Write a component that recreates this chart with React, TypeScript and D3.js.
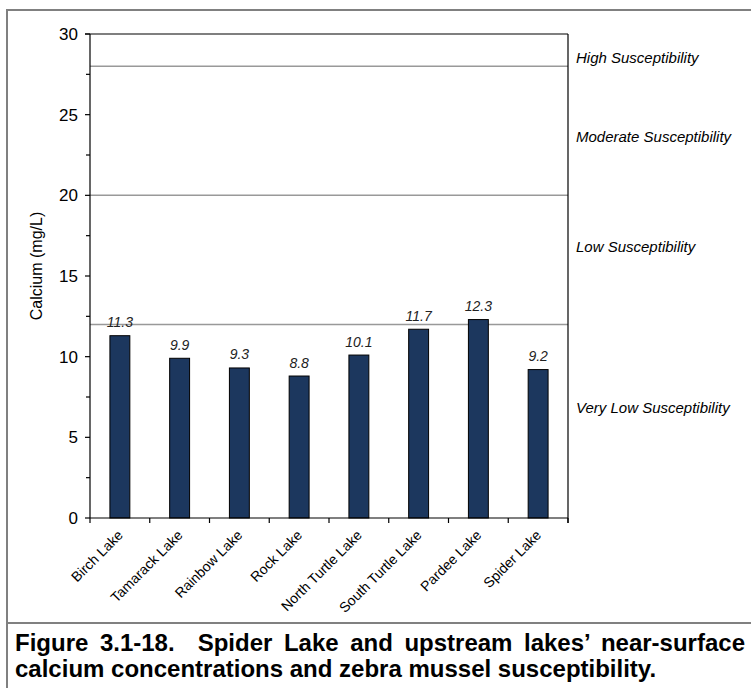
import React, { useEffect, useRef } from "react";
import * as d3 from "d3";

const lakes = [
  "Birch Lake",
  "Tamarack Lake",
  "Rainbow Lake",
  "Rock Lake",
  "North Turtle Lake",
  "South Turtle Lake",
  "Pardee Lake",
  "Spider Lake",
];
const calcium = [11.3, 9.9, 9.3, 8.8, 10.1, 11.7, 12.3, 9.2];
const thresholds = [12, 20, 28];
const zoneLabels = [
  "High Susceptibility",
  "Moderate Susceptibility",
  "Low Susceptibility",
  "Very Low Susceptibility",
];
const zoneLabelValues = [28.2, 23.3, 16.5, 6.5];
const yTicks = [0, 5, 10, 15, 20, 25, 30];
const yMinorTicks = [2.5, 7.5, 12.5, 17.5, 22.5, 27.5];
const yTitle = "Calcium (mg/L)";
const captionLines = [
  "Figure 3.1-18.  Spider Lake and upstream lakes\u2019 near-surface",
  "calcium concentrations and zebra mussel susceptibility.",
];

const W = 751;
const H = 688;
const FONT = "'Liberation Sans', Arial, Helvetica, sans-serif";

export default function App() {
  const ref = useRef<SVGSVGElement | null>(null);

  useEffect(() => {
    const svg = d3.select(ref.current);
    svg.selectAll("*").remove();

    const left = 90, right = 568, top = 34, bottom = 518;
    const y = d3.scaleLinear().domain([0, 30]).range([bottom, top]);
    const x = d3.scaleBand<string>().domain(lakes).range([left, right]).padding(0);
    const bw = x.bandwidth();
    const barW = bw / 3;

    // outer frame
    const frame = svg.append("g").attr("stroke", "#808080").attr("stroke-width", 2).attr("fill", "none");
    frame.append("line").attr("x1", 7).attr("x2", 7).attr("y1", 9).attr("y2", H);
    frame.append("line").attr("x1", 6).attr("x2", W).attr("y1", 10).attr("y2", 10);
    frame.append("line").attr("x1", 6).attr("x2", W).attr("y1", 623).attr("y2", 623);

    // threshold lines
    svg.append("g")
      .selectAll("line")
      .data(thresholds)
      .join("line")
      .attr("x1", left)
      .attr("x2", right)
      .attr("y1", (d) => y(d))
      .attr("y2", (d) => y(d))
      .attr("stroke", "#999999")
      .attr("stroke-width", 1.5);

    // bars
    svg.append("g")
      .selectAll("rect")
      .data(calcium)
      .join("rect")
      .attr("x", (_d, i) => (x(lakes[i]) as number) + (bw - barW) / 2)
      .attr("y", (d) => y(d))
      .attr("width", barW)
      .attr("height", (d) => y(0) - y(d))
      .attr("fill", "#1c375e")
      .attr("stroke", "#000")
      .attr("stroke-width", 1);

    // value labels
    svg.append("g")
      .selectAll("text")
      .data(calcium)
      .join("text")
      .attr("x", (_d, i) => (x(lakes[i]) as number) + bw / 2)
      .attr("y", (d) => y(d) - 8.5)
      .attr("text-anchor", "middle")
      .attr("font-family", FONT)
      .attr("font-style", "italic")
      .attr("font-size", 14)
      .attr("fill", "#222")
      .text((d) => d.toFixed(1));

    // axes & border
    const ax = svg.append("g").attr("stroke", "#000").attr("stroke-width", 1.2).attr("fill", "none");
    ax.append("line").attr("x1", left - 5).attr("x2", right).attr("y1", top).attr("y2", top);
    ax.append("line").attr("x1", right).attr("x2", right).attr("y1", top).attr("y2", bottom + 5);
    ax.append("line").attr("x1", left).attr("x2", left).attr("y1", top).attr("y2", bottom);
    ax.append("line").attr("x1", left).attr("x2", right).attr("y1", bottom).attr("y2", bottom);

    ax.selectAll(".maj")
      .data(yTicks)
      .join("line")
      .attr("class", "maj")
      .attr("x1", left - 5)
      .attr("x2", left)
      .attr("y1", (d) => y(d))
      .attr("y2", (d) => y(d));
    ax.selectAll(".min")
      .data(yMinorTicks)
      .join("line")
      .attr("class", "min")
      .attr("x1", left - 4)
      .attr("x2", left)
      .attr("y1", (d) => y(d))
      .attr("y2", (d) => y(d));

    const bounds = lakes.map((l) => x(l) as number).concat([right]);
    ax.selectAll(".xt")
      .data(bounds)
      .join("line")
      .attr("class", "xt")
      .attr("x1", (d) => d)
      .attr("x2", (d) => d)
      .attr("y1", bottom)
      .attr("y2", bottom + 5);

    // y tick labels
    svg.append("g")
      .selectAll("text")
      .data(yTicks)
      .join("text")
      .attr("x", left - 12)
      .attr("y", (d) => y(d) + 6)
      .attr("text-anchor", "end")
      .attr("font-family", FONT)
      .attr("font-size", 17)
      .attr("fill", "#000")
      .text((d) => String(d));

    // y title
    svg.append("text")
      .attr("transform", `translate(42, ${(top + bottom) / 2 - 10}) rotate(-90)`)
      .attr("text-anchor", "middle")
      .attr("font-family", FONT)
      .attr("font-size", 16)
      .attr("fill", "#000")
      .text(yTitle);

    // category labels
    svg.append("g")
      .selectAll("text")
      .data(lakes)
      .join("text")
      .attr("transform", (d) => `translate(${(x(d) as number) + bw / 2 + 4}, ${bottom + 18}) rotate(-45)`)
      .attr("text-anchor", "end")
      .attr("font-family", FONT)
      .attr("font-size", 14)
      .attr("fill", "#000")
      .text((d) => d);

    // zone labels
    svg.append("g")
      .selectAll("text")
      .data(zoneLabels)
      .join("text")
      .attr("x", 576)
      .attr("y", (_d, i) => y(zoneLabelValues[i]))
      .attr("font-family", FONT)
      .attr("font-style", "italic")
      .attr("font-size", 15)
      .attr("fill", "#000")
      .text((d) => d);

    // caption: first line justified via word-spacing
    const capX = 15, capRight = 745;
    const capSize = 24;
    const line1 = svg.append("text")
      .attr("x", capX)
      .attr("y", 651)
      .attr("font-family", FONT)
      .attr("font-weight", "bold")
      .attr("font-size", capSize)
      .attr("fill", "#000")
      .style("white-space", "pre")
      .text(captionLines[0]);
    const node1 = line1.node() as SVGTextElement;
    const natural = node1.getComputedTextLength();
    const gaps = (captionLines[0].match(/ /g) || []).length;
    const target = capRight - capX;
    if (gaps > 0 && natural > 0 && target > natural) {
      line1.attr("word-spacing", (target - natural) / gaps);
    }
    svg.append("text")
      .attr("x", capX)
      .attr("y", 677)
      .attr("font-family", FONT)
      .attr("font-weight", "bold")
      .attr("font-size", capSize)
      .attr("fill", "#000")
      .text(captionLines[1]);
  }, []);

  return (
    <svg
      ref={ref}
      width={W}
      height={H}
      style={{ position: "absolute", left: 0, top: 0, background: "#fff" }}
    />
  );
}
